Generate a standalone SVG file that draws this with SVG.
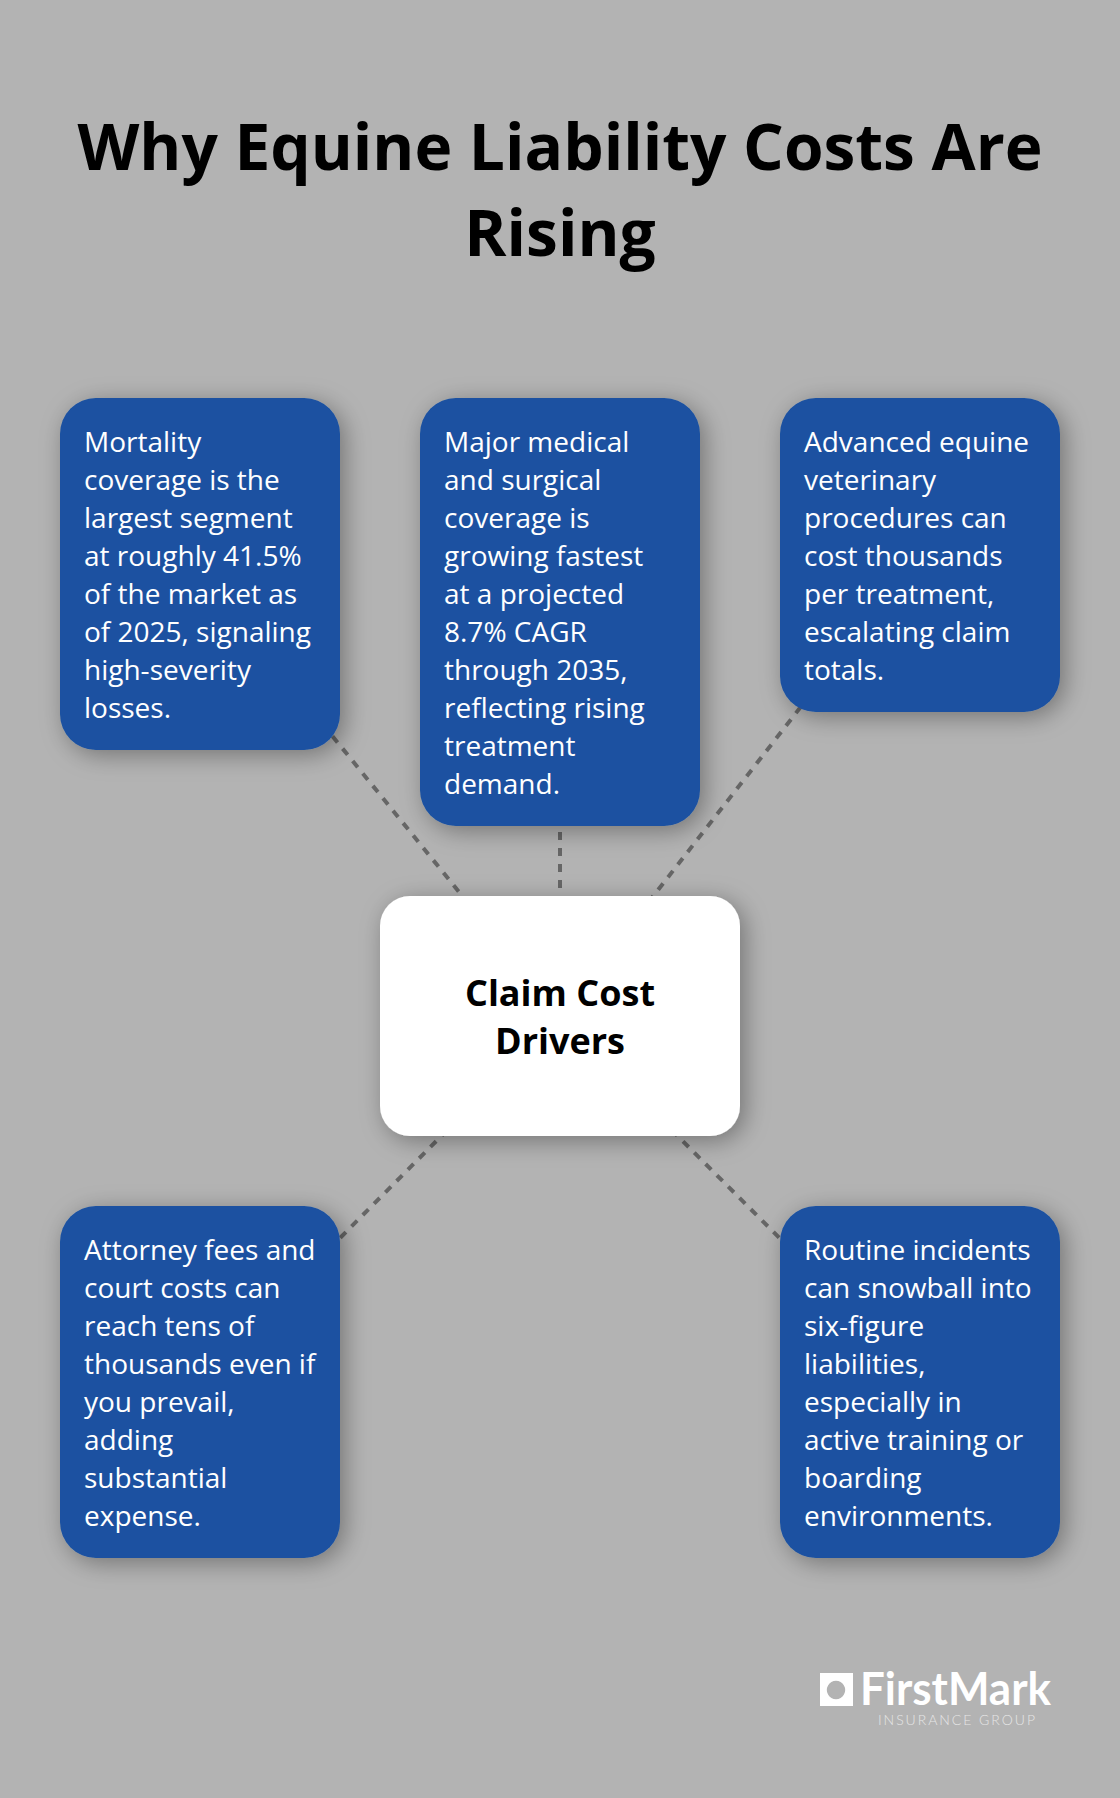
<svg xmlns="http://www.w3.org/2000/svg" width="1120" height="1798" viewBox="0 0 1120 1798">
<style>
.title{font:700 64px "Open Sans",sans-serif;fill:#000;text-anchor:middle}
.body{font:400 28px "Open Sans",sans-serif;fill:#fff}
.center{font:700 36px "Open Sans",sans-serif;fill:#000;text-anchor:middle}
.blue{fill:#1a51a1}
.conn{stroke:#666;stroke-width:4;stroke-dasharray:8 8;fill:none}
</style>
<defs><filter id="sh" x="-30%" y="-30%" width="160%" height="160%"><feDropShadow dx="5" dy="5" stdDeviation="12" flood-color="#000" flood-opacity="0.35"/></filter></defs>
<rect width="1120" height="1798" fill="#b3b3b3"/>
<text class="title" x="560" y="170">Why Equine Liability Costs Are</text>
<text class="title" x="560" y="256">Rising</text>
<g id="connectors">
<line class="conn" x1="332.500" y1="736.200" x2="459.200" y2="892.100"/>
<line class="conn" x1="560" y1="832" x2="560" y2="888"/>
<line class="conn" x1="800.800" y1="706.800" x2="651" y2="899"/>
<line class="conn" x1="447.400" y1="1129.900" x2="340" y2="1238"/>
<line class="conn" x1="671.700" y1="1130" x2="780" y2="1238.500"/>
</g>
<g id="node-left-top"><rect class="blue" x="60" y="398" width="280" height="352" rx="36" filter="url(#sh)"/>
<text class="body"><tspan x="84" y="452">Mortality</tspan><tspan x="84" y="490">coverage is the</tspan><tspan x="84" y="528">largest segment</tspan><tspan x="84" y="566">at roughly 41.5%</tspan><tspan x="84" y="604">of the market as</tspan><tspan x="84" y="642">of 2025, signaling</tspan><tspan x="84" y="680">high-severity</tspan><tspan x="84" y="718">losses.</tspan></text></g>
<g id="node-middle-top"><rect class="blue" x="420" y="398" width="280" height="428" rx="36" filter="url(#sh)"/>
<text class="body"><tspan x="444" y="452">Major medical</tspan><tspan x="444" y="490">and surgical</tspan><tspan x="444" y="528">coverage is</tspan><tspan x="444" y="566">growing fastest</tspan><tspan x="444" y="604">at a projected</tspan><tspan x="444" y="642">8.7% CAGR</tspan><tspan x="444" y="680">through 2035,</tspan><tspan x="444" y="718">reflecting rising</tspan><tspan x="444" y="756">treatment</tspan><tspan x="444" y="794">demand.</tspan></text></g>
<g id="node-right-top"><rect class="blue" x="780" y="398" width="280" height="314" rx="36" filter="url(#sh)"/>
<text class="body"><tspan x="804" y="452">Advanced equine</tspan><tspan x="804" y="490">veterinary</tspan><tspan x="804" y="528">procedures can</tspan><tspan x="804" y="566">cost thousands</tspan><tspan x="804" y="604">per treatment,</tspan><tspan x="804" y="642">escalating claim</tspan><tspan x="804" y="680">totals.</tspan></text></g>
<g id="node-center"><rect fill="#fff" x="380" y="896" width="360" height="240" rx="30" filter="url(#sh)"/>
<text class="center"><tspan x="560" y="1006">Claim Cost</tspan><tspan x="560" y="1054">Drivers</tspan></text></g>
<g id="node-left-bottom"><rect class="blue" x="60" y="1206" width="280" height="352" rx="36" filter="url(#sh)"/>
<text class="body"><tspan x="84" y="1260">Attorney fees and</tspan><tspan x="84" y="1298">court costs can</tspan><tspan x="84" y="1336">reach tens of</tspan><tspan x="84" y="1374">thousands even if</tspan><tspan x="84" y="1412">you prevail,</tspan><tspan x="84" y="1450">adding</tspan><tspan x="84" y="1488">substantial</tspan><tspan x="84" y="1526">expense.</tspan></text></g>
<g id="node-right-bottom"><rect class="blue" x="780" y="1206" width="280" height="352" rx="36" filter="url(#sh)"/>
<text class="body"><tspan x="804" y="1260">Routine incidents</tspan><tspan x="804" y="1298">can snowball into</tspan><tspan x="804" y="1336">six-figure</tspan><tspan x="804" y="1374">liabilities,</tspan><tspan x="804" y="1412">especially in</tspan><tspan x="804" y="1450">active training or</tspan><tspan x="804" y="1488">boarding</tspan><tspan x="804" y="1526">environments.</tspan></text></g>
<g id="logo">
<path fill="#fff" fill-rule="evenodd" d="M820 1673h33v33h-33zM836 1680.800a9.200 9.200 0 1 0 0.010 0z"/>
<text x="860" y="1705" font-family="Lato,sans-serif" font-weight="700" font-size="46" fill="#fff" textLength="191" lengthAdjust="spacingAndGlyphs">FirstMark</text>
<text x="878" y="1725" font-family="Lato,sans-serif" font-weight="300" font-size="14" fill="#e6e6e6" textLength="157">INSURANCE GROUP</text>
</g>
</svg>
